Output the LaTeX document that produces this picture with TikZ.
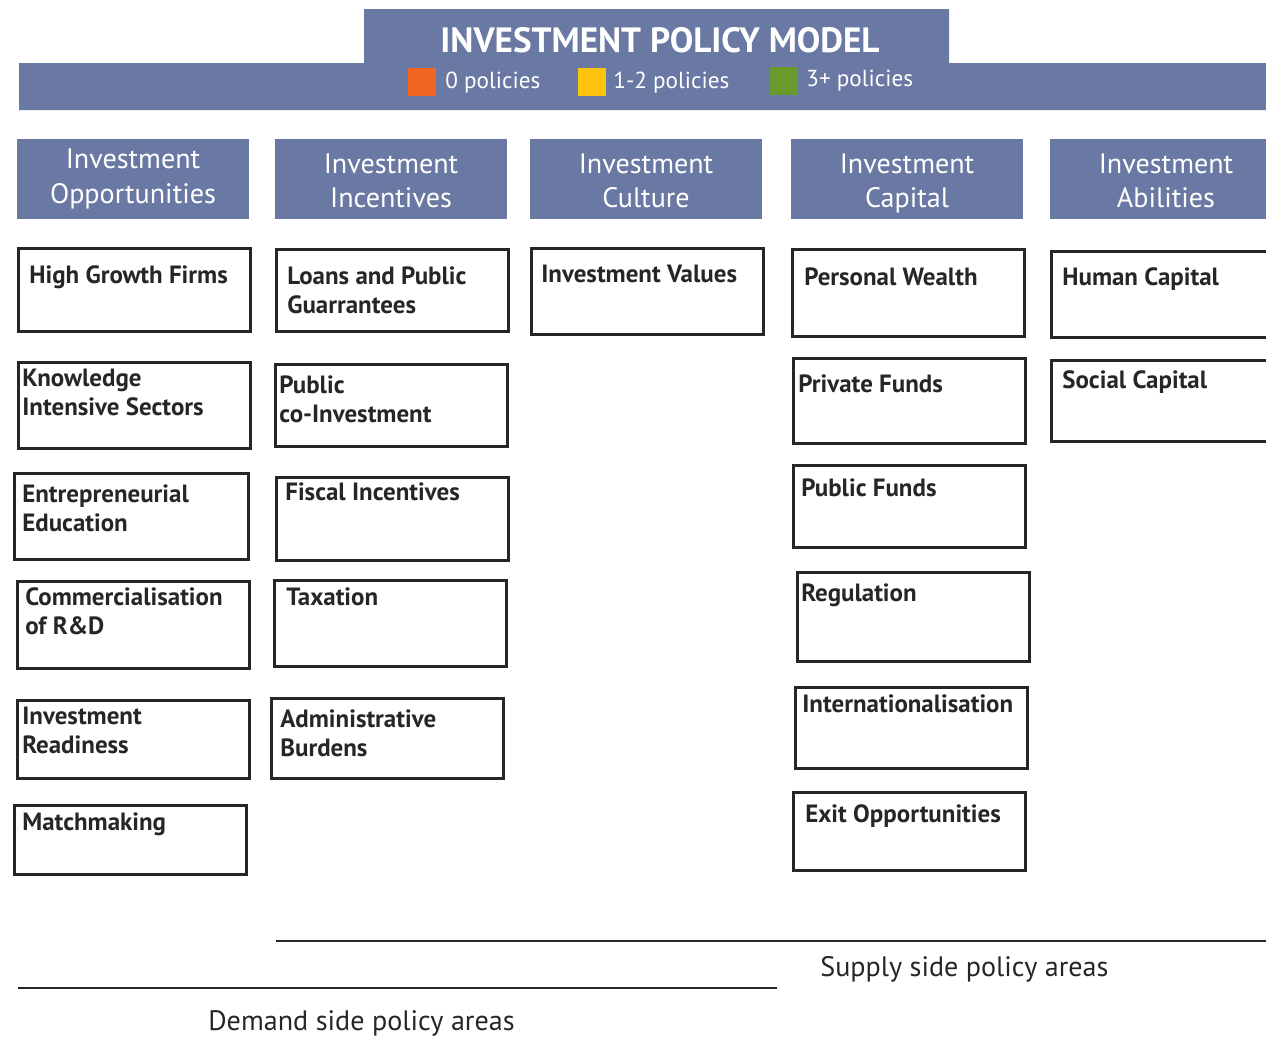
\documentclass[tikz,border=0pt]{standalone}
\usepackage{fontspec}
\setmainfont{PT Sans}

\definecolor{ipmblue}{RGB}{106,121,163}
\definecolor{ipmorange}{RGB}{242,101,34}
\definecolor{ipmyellow}{RGB}{255,194,14}
\definecolor{ipmgreen}{RGB}{106,154,46}

\tikzset{
    colhead/.style = {fill=ipmblue, text=white, minimum width=4.64cm, minimum height=1.6cm,
        align=center, inner sep=0pt, font=\fontsize{16}{19.5}\selectfont},
    pbox/.style = {draw=black!85, line width=1.5pt, anchor=north west, minimum width=4.64cm, inner sep=0pt},
    ptext/.style = {anchor=north west, align=left, inner sep=0pt, text=black!85,
        font=\bfseries\fontsize{14.2}{16.5}\selectfont},
    legendbox/.style = {minimum size=0.55cm, inner sep=0pt, anchor=north west},
    legendtext/.style = {anchor=west, text=white, inner sep=0pt, font=\fontsize{13.2}{16}\selectfont},
    sidetext/.style = {anchor=west, inner sep=0pt, text=black!85, font=\fontsize{16}{19}\selectfont}
}

\begin{document}
\begin{tikzpicture}[x=0.02cm, y=-0.02cm]
    \clip (0,0) rectangle (1266,1038);

    % title banner and legend
    \fill[ipmblue] (364,9) -- (949,9) -- (949,63) -- (1270,63) -- (1270,110)
        -- (19,110) -- (19,63) -- (364,63) -- cycle;
    \node[text=white, font=\bfseries\fontsize{20}{24}\selectfont] (title) at (660,40) {INVESTMENT POLICY MODEL};
    \node[legendbox, fill=ipmorange] (none) at (408,68) {};
    \node[legendtext] (nonetext) at (445,83) {0 policies};
    \node[legendbox, fill=ipmyellow] (few) at (578,68) {};
    \node[legendtext] (fewtext) at (613,83) {1-2 policies};
    \node[legendbox, fill=ipmgreen] (many) at (770,67) {};
    \node[legendtext] (manytext) at (806,81) {3+ policies};

    % column headings
    \node[colhead] (opportunities) at (133,179) {Investment\\Opportunities};
    \node[colhead] (incentives) at (391,179) {\rule{0pt}{13pt}Investment\\Incentives};
    \node[colhead] (culture) at (646,179) {\rule{0pt}{13pt}Investment\\Culture};
    \node[colhead] (capital) at (907,179) {\rule{0pt}{16pt}Investment\\Capital};
    \node[colhead] (abilities) at (1166,179) {\rule{0pt}{13pt}Investment\\Abilities};

    % investment opportunities
    \node[pbox, minimum height=1.66cm] (hgf) at (17,247) {};
    \node[ptext] (hgftext) at (29,265) {High Growth Firms};
    \node[pbox, minimum height=1.72cm] (kis) at (17,361) {};
    \node[ptext] (kistext) at (22,369) {Knowledge\\Intensive Sectors};
    \node[pbox, minimum width=4.68cm, minimum height=1.72cm] (entedu) at (13,472) {};
    \node[ptext] (entedutext) at (22,484) {Entrepreneurial\\Education};
    \node[pbox, minimum height=1.74cm] (comm) at (16,580) {};
    \node[ptext] (commtext) at (25,587) {Commercialisation\\of R\&D};
    \node[pbox, minimum height=1.56cm] (readiness) at (16,699) {};
    \node[ptext] (readinesstext) at (22,707) {Investment\\Readiness};
    \node[pbox, minimum height=1.38cm] (match) at (13,804) {};
    \node[ptext] (matchtext) at (22,812) {Matchmaking};

    % investment incentives
    \node[pbox, minimum height=1.64cm] (loans) at (275,248) {};
    \node[ptext] (loanstext) at (287,266) {Loans and Public\\Guarrantees};
    \node[pbox, minimum height=1.64cm] (coinv) at (274,363) {};
    \node[ptext] (coinvtext) at (279,375) {Public\\co-Investment};
    \node[pbox, minimum height=1.66cm] (fiscal) at (275,476) {};
    \node[ptext] (fiscaltext) at (285,482) {Fiscal Incentives};
    \node[pbox, minimum height=1.72cm] (tax) at (273,579) {};
    \node[ptext] (taxtext) at (286,587) {Taxation};
    \node[pbox, minimum height=1.6cm] (admin) at (270,697) {};
    \node[ptext] (admintext) at (280,709) {Administrative\\Burdens};

    % investment culture
    \node[pbox, minimum height=1.72cm] (values) at (530,247) {};
    \node[ptext] (valuestext) at (541,265) {Investment Values};

    % investment capital
    \node[pbox, minimum height=1.74cm] (wealth) at (791,248) {};
    \node[ptext] (wealthtext) at (804,267) {Personal Wealth};
    \node[pbox, minimum height=1.7cm] (privfunds) at (792,357) {};
    \node[ptext] (privfundstext) at (798,374) {Private Funds};
    \node[pbox, minimum height=1.64cm] (pubfunds) at (792,464) {};
    \node[ptext] (pubfundstext) at (801,478) {Public Funds};
    \node[pbox, minimum height=1.78cm] (regulation) at (796,571) {};
    \node[ptext] (regulationtext) at (801,583) {Regulation};
    \node[pbox, minimum height=1.62cm] (intl) at (794,686) {};
    \node[ptext] (intltext) at (802,694) {Internationalisation};
    \node[pbox, minimum height=1.56cm] (exit) at (792,791) {};
    \node[ptext] (exittext) at (805,804) {Exit Opportunities};

    % investment abilities
    \node[pbox, minimum height=1.72cm] (human) at (1050,250) {};
    \node[ptext] (humantext) at (1062,267) {Human Capital};
    \node[pbox, minimum height=1.62cm] (social) at (1050,359) {};
    \node[ptext] (socialtext) at (1062,370) {Social Capital};

    % supply and demand sides
    \draw[line width=1.6pt, black!85] (276,941) -- (1270,941);
    \node[sidetext] (supply) at (820,969) {Supply side policy areas};
    \draw[line width=1.6pt, black!85] (18,988) -- (777,988);
    \node[sidetext] (demand) at (208,1023) {Demand side policy areas};
\end{tikzpicture}
\end{document}
